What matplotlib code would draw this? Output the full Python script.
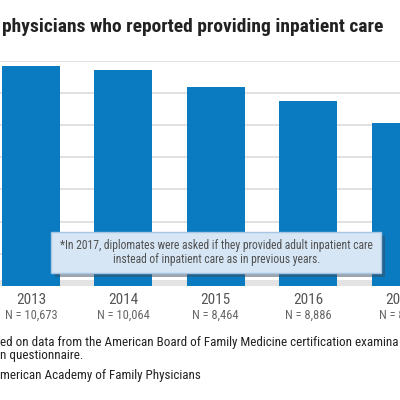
import matplotlib
matplotlib.use('Agg')
import matplotlib.pyplot as plt
from matplotlib.patches import Rectangle

years = ['2013', '2014', '2015', '2016', '2017']
counts = ['N = 10,673', 'N = 10,064', 'N = 8,464', 'N = 8,886', 'N = 8,???']
pct = [34.15, 33.6, 30.9, 28.7, 25.25]

plt.rcParams['font.family'] = ['Roboto Condensed', 'DejaVu Sans']
bar_color = '#0a7bc0'


def px(x, y):
    # reference pixel position -> figure fraction
    return x / 400, (400 - y) / 400


fig = plt.figure(figsize=(4, 4), dpi=100)
ax = fig.add_axes([0, 0.285, 1, 0.5635])
x = list(range(len(years)))
ax.set_xlim(-0.3355, 3.9935)
ax.set_ylim(0, 35)

for g in range(0, 36, 5):
    ax.axhline(g, color='#dcdcdc', lw=1.2, zorder=0)
# floor band under the bars
ax.add_patch(Rectangle((-1, 0), 6, 0.9, color='#e3e3e3', zorder=0.5, lw=0))

ax.bar(x, pct, width=0.628, color=bar_color, zorder=2)
for s in ax.spines.values():
    s.set_visible(False)
ax.set_xticks([])
ax.set_yticks([])

for i, (yr, n) in enumerate(zip(years, counts)):
    ax.text(i, -1.1, yr, ha='center', va='top', fontsize=11, color='#555555')
    ax.text(i, -3.6, n, ha='center', va='top', fontsize=9, color='#666666')

# note box with its shadow
fig.patches.append(Rectangle(px(55, 277), 330 / 400, 41 / 400, transform=fig.transFigure,
                             facecolor='#3a4d5e', edgecolor='none', alpha=0.5, zorder=3))
fig.patches.append(Rectangle(px(51, 273), 330 / 400, 41 / 400, transform=fig.transFigure,
                             facecolor='#d6e6f5', edgecolor='#a8c6e4', lw=1, zorder=4))
fig.text(*px(216.5, 245),
         '*In 2017, diplomates were asked if they provided adult inpatient care',
         ha='center', va='center', fontsize=8.4, color='#505050', zorder=5)
fig.text(*px(216.5, 260), 'instead of inpatient care as in previous years.',
         ha='center', va='center', fontsize=8.4, color='#505050', zorder=5)

fig.text(*px(2, 27), 'physicians who reported providing inpatient care',
         ha='left', va='center', fontsize=14.0, color='#222222', fontweight='bold')

fig.text(*px(0, 342.5),
         'ed on data from the American Board of Family Medicine certification examina',
         ha='left', va='center', fontsize=9.4, color='#222222')
fig.text(*px(0, 356), 'n questionnaire.', ha='left', va='center', fontsize=9.4,
         color='#222222')
fig.text(*px(0, 376), 'merican Academy of Family Physicians', ha='left', va='center',
         fontsize=9.4, color='#222222')

fig.savefig('out.png', dpi=100)
